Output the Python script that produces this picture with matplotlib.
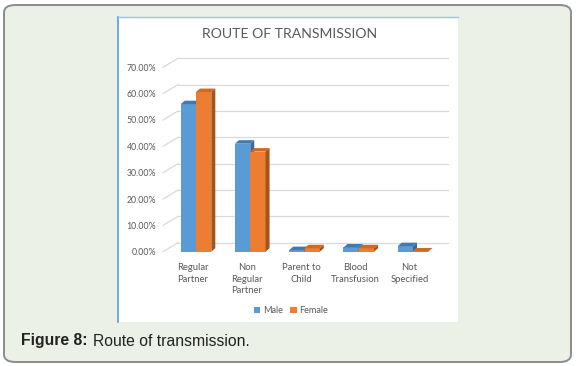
import matplotlib.pyplot as plt
import matplotlib.transforms as mtransforms
from matplotlib.patches import Polygon, FancyBboxPatch, Patch
from matplotlib.lines import Line2D

categories = ["Regular\nPartner", "Non\nRegular\nPartner", "Parent to\nChild",
              "Blood\nTransfusion", "Not\nSpecified"]
male = [56.0, 41.0, 0.6, 1.6, 2.1]
female = [60.6, 38.0, 1.3, 1.3, 0.1]
yticks = [0, 10, 20, 30, 40, 50, 60, 70]

W, H = 576, 366
fig = plt.figure(figsize=(W / 100, H / 100), dpi=100, facecolor="white")

# outer rounded frame
fig.patches.append(FancyBboxPatch((4 / W, 4 / H), 567 / W, 357 / H,
                                  boxstyle="round,pad=0,rounding_size=0.02",
                                  transform=fig.transFigure, facecolor="#ebf1e6",
                                  edgecolor="#8c8c8c", lw=1.4, zorder=-2))
# white chart panel
fig.patches.append(plt.Rectangle((118 / W, 1 - 322 / H), 340 / W, 305 / H,
                                 transform=fig.transFigure, facecolor="white",
                                 edgecolor="none", zorder=-1))
fig.lines.append(Line2D([118 / W, 118 / W], [1 - 322 / H, 1 - 17 / H],
                        transform=fig.transFigure, color="#5b9bd5", lw=1.2))
fig.lines.append(Line2D([118 / W, 458 / W], [1 - 17 / H, 1 - 17 / H],
                        transform=fig.transFigure, color="#9dc3e6", lw=1.0))

# axes: category spacing 54.25 px, group 0 centred at x=196 px
left_px, right_px = 163, 450
ax = fig.add_axes([left_px / W, 1 - 251.7 / H, (right_px - left_px) / W, 184.4 / H])
ax.set_zorder(2)
ax.set_facecolor("none")
ax.set_xlim((left_px - 196) / 54.25, (right_px - 196) / 54.25)
ax.set_ylim(0, 70)
for s in ax.spines.values():
    s.set_visible(False)

inv = ax.transData.inverted()
ox, oy = ax.transData.transform((0, 0))


def dpx(dx, dy):
    x, y = inv.transform((ox + dx, oy + dy))
    return x, y


wx, wy = dpx(15, 9)     # back wall depth
bx, by = dpx(4, 3.5)    # bar depth
xl = ax.get_xlim()[0]
xr = (448 - 196) / 54.25

for v in yticks:
    ax.plot([xl, xl + wx], [v, v + wy], color="#d9d9d9", lw=0.9, zorder=1,
            clip_on=False)
    ax.plot([xl + wx, xr], [v + wy, v + wy], color="#d9d9d9", lw=0.9, zorder=1,
            clip_on=False)

w = 15.3 / 54.25
series = [(male, -w, "#5b9bd5", "#4479b0", "#3d6b99", 2),
          (female, 0, "#ed7d31", "#cf6a24", "#a5531d", 3)]
xs = list(range(len(categories)))
for vals, off, c_front, c_top, c_side, z in series:
    ax.bar([x + off for x in xs], vals, width=w, align="edge",
           color=c_front, zorder=z)
    for x, v in zip(xs, vals):
        x0 = x + off
        x1 = x0 + w
        ax.add_patch(Polygon([(x0, v), (x1, v), (x1 + bx, v + by), (x0 + bx, v + by)],
                             closed=True, facecolor=c_top, edgecolor="none", zorder=z,
                             clip_on=False))
        ax.add_patch(Polygon([(x1, 0), (x1 + bx, by), (x1 + bx, v + by), (x1, v)],
                             closed=True, facecolor=c_side, edgecolor="none", zorder=z,
                             clip_on=False))

ax.set_yticks(yticks)
ax.set_yticklabels([f"{v:.2f}%" for v in yticks], fontsize=6.3,
                   color="#595959", family="Lato")
ax.tick_params(axis="y", length=0, pad=5)
ax.set_xticks(xs)
ax.set_xticklabels(categories, fontsize=6.8, color="#595959", family="Lato",
                   linespacing=1.4, va="top")
ax.tick_params(axis="x", length=0, pad=8)
shift = mtransforms.ScaledTranslation(-3.5 / 100, 0, fig.dpi_scale_trans)
for lbl in ax.get_xticklabels():
    lbl.set_transform(lbl.get_transform() + shift)

fig.text(289.5 / W, 1 - 33.7 / H, "ROUTE OF TRANSMISSION", ha="center", va="center",
         fontsize=10.1, color="#595959", family="Lato")

handles = [Patch(facecolor="#5b9bd5"), Patch(facecolor="#ed7d31")]
fig.legend(handles, ["Male", "Female"], loc="center",
           bbox_to_anchor=(291 / W, 1 - 310.7 / H), ncol=2, frameon=False,
           prop={"family": "Lato", "size": 6.6}, labelcolor="#595959",
           handlelength=0.7, handleheight=0.7, handletextpad=0.3,
           columnspacing=0.8)

fig.text(21 / W, 1 - 341 / H, "Figure 8:", ha="left", va="center", fontsize=11.3,
         fontweight="bold", family="Liberation Sans", color="#222222")
fig.text(92.7 / W, 1 - 341 / H, "Route of transmission.", ha="left", va="center",
         fontsize=11.3, family="Liberation Sans", color="#222222")

fig.savefig("out.png", dpi=100, facecolor=fig.get_facecolor())
